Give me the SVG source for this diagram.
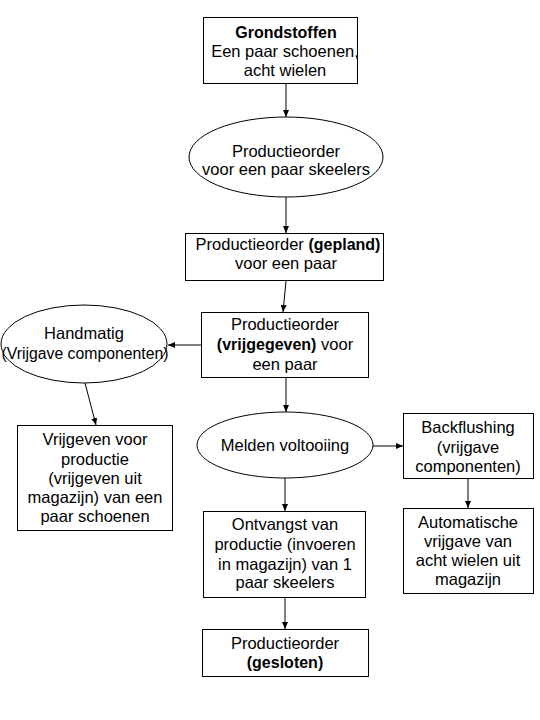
<svg xmlns="http://www.w3.org/2000/svg" width="540" height="720" viewBox="0 0 540 720">
<defs>
<marker id="arr" markerWidth="8" markerHeight="8" refX="7" refY="4" orient="auto" markerUnits="userSpaceOnUse">
<path d="M0,1 L7,4 L0,7 Z" fill="#000"/>
</marker>
<style>
.s{fill:#fff;stroke:#000;stroke-width:1}
text{font-family:"Liberation Sans",Arial,sans-serif;font-size:16.5px;fill:#000;text-anchor:middle}
.b{font-weight:bold;font-size:16px}
.c{fill:none;stroke:#000;stroke-width:1;marker-end:url(#arr)}
</style>
</defs>
<rect width="540" height="720" fill="#fff"/>
<g id="connectors">
<line class="c" x1="286" y1="83" x2="286" y2="117"/>
<line class="c" x1="286" y1="197" x2="286" y2="233"/>
<line class="c" x1="286" y1="281" x2="283" y2="312"/>
<line class="c" x1="201" y1="345" x2="168" y2="345"/>
<line class="c" x1="85" y1="383" x2="96" y2="425"/>
<line class="c" x1="286" y1="377" x2="286" y2="412"/>
<line class="c" x1="372" y1="446" x2="403" y2="446"/>
<line class="c" x1="468" y1="478" x2="468" y2="508"/>
<line class="c" x1="285" y1="478" x2="285" y2="511"/>
<line class="c" x1="285" y1="597" x2="285" y2="629"/>
</g>
<g id="grondstoffen">
<rect class="s" x="203.5" y="17.5" width="154" height="66"/>
<text x="286" y="38" class="b">Grondstoffen</text>
<text x="285" y="57">Een paar schoenen,</text>
<text x="285" y="76">acht wielen</text>
</g>
<g id="productieorder-skeelers">
<ellipse class="s" cx="286" cy="157" rx="97" ry="40"/>
<text x="286" y="157">Productieorder</text>
<text x="286" y="175">voor een paar skeelers</text>
</g>
<g id="gepland">
<rect class="s" x="185.5" y="233.5" width="198" height="47"/>
<text x="288" y="250">Productieorder <tspan class="b">(gepland)</tspan></text>
<text x="286" y="269">voor een paar</text>
</g>
<g id="vrijgegeven">
<rect class="s" x="201.5" y="312.5" width="167" height="65"/>
<text x="285" y="330">Productieorder</text>
<text x="285" y="350"><tspan class="b">(vrijgegeven)</tspan> voor</text>
<text x="285" y="370">een paar</text>
</g>
<g id="handmatig">
<ellipse class="s" cx="84" cy="344" rx="83" ry="39"/>
<text x="84" y="339">Handmatig</text>
<text x="85" y="359" style="font-size:15.8px">(Vrijgave componenten)</text>
</g>
<g id="vrijgeven-productie">
<rect class="s" x="17.5" y="425.5" width="155" height="105"/>
<text x="95" y="445">Vrijgeven voor</text>
<text x="95" y="465">productie</text>
<text x="95" y="484">(vrijgeven uit</text>
<text x="95" y="503">magazijn) van een</text>
<text x="95" y="522">paar schoenen</text>
</g>
<g id="melden">
<ellipse class="s" cx="285" cy="445" rx="88" ry="33"/>
<text x="285" y="451">Melden voltooiing</text>
</g>
<g id="backflushing">
<rect class="s" x="403.5" y="413.5" width="130" height="65"/>
<text x="468" y="433">Backflushing</text>
<text x="468" y="453">(vrijgave</text>
<text x="468" y="472">componenten)</text>
</g>
<g id="automatische">
<rect class="s" x="403.5" y="508.5" width="130" height="85"/>
<text x="468" y="528">Automatische</text>
<text x="468" y="547">vrijgave van</text>
<text x="468" y="566">acht wielen uit</text>
<text x="468" y="585">magazijn</text>
</g>
<g id="ontvangst">
<rect class="s" x="203.5" y="511.5" width="162" height="86"/>
<text x="285" y="530">Ontvangst van</text>
<text x="285" y="550">productie (invoeren</text>
<text x="285" y="570">in magazijn) van 1</text>
<text x="285" y="588">paar skeelers</text>
</g>
<g id="gesloten">
<rect class="s" x="202.5" y="629.5" width="166" height="47"/>
<text x="285" y="649">Productieorder</text>
<text x="285" y="668" class="b">(gesloten)</text>
</g>
</svg>
